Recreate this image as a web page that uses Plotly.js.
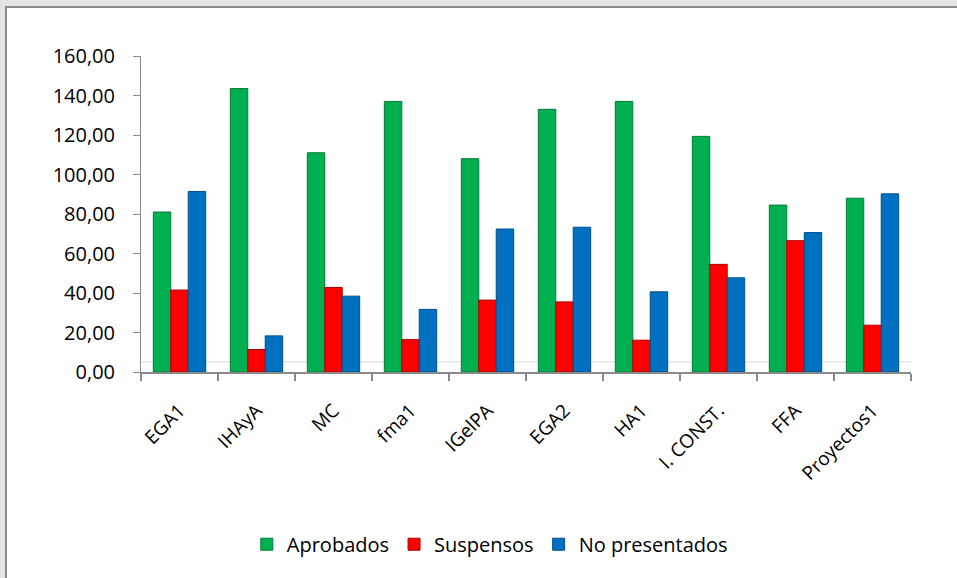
<!DOCTYPE html>
<html>
<head>
<meta charset="utf-8">
<script src="https://cdn.plot.ly/plotly-3.0.1.min.js"></script>
<style>
  html, body { margin: 0; padding: 0; width: 957px; height: 578px; overflow: hidden; background: #e4e4e4; }
  #frame { position: absolute; left: 5px; top: 6px; width: 952px; height: 572px; background: #ffffff;
           border-left: 2px solid #8a8a8a; border-top: 2px solid #8a8a8a; box-sizing: border-box; }
  #chart { position: absolute; left: 0; top: 0; width: 957px; height: 578px; }
</style>
</head>
<body>
<div id="frame"></div>
<div id="chart"></div>
<script>
const categories = ["EGA1", "IHAyA", "MC", "fma1", "IGelPA", "EGA2", "HA1", "I. CONST.", "FFA", "Proyectos1"];
const aprobados = [81, 143.5, 111, 137, 108, 133, 137, 119.3, 84.5, 88];
const suspensos = [41.5, 11.4, 42.8, 16.4, 36.4, 35.5, 16.1, 54.5, 66.5, 23.7];
const noPresentados = [91.4, 18.3, 38.4, 31.7, 72.4, 73.3, 40.6, 47.7, 70.6, 90.2];
const seriesNames = ["Aprobados", "Suspensos", "No presentados"];
const yTicks = [0, 20, 40, 60, 80, 100, 120, 140, 160];

const colors = ["#00B050", "#FF0000", "#0070C0"];
const edges = ["#007a38", "#b00000", "#004f88"];
const data = [aprobados, suspensos, noPresentados].map((vals, i) => ({
  type: "bar",
  name: seriesNames[i],
  x: categories,
  y: vals,
  marker: { color: colors[i], line: { color: edges[i], width: 1 } },
  hoverinfo: "x+y+name"
}));

const layout = {
  width: 957, height: 578,
  paper_bgcolor: "rgba(0,0,0,0)",
  plot_bgcolor: "rgba(0,0,0,0)",
  separators: ",.",
  font: { family: "Open Sans, sans-serif", color: "#000000" },
  margin: { l: 141, r: 46, t: 56, b: 206, pad: 0 },
  barmode: "group",
  bargap: 0.32,
  bargroupgap: 0,
  showlegend: true,
  legend: {
    orientation: "h", x: 0.453, xanchor: "center", y: -0.545, yanchor: "middle",
    font: { size: 20, color: "#000" }, itemwidth: 30, traceorder: "normal"
  },
  xaxis: {
    type: "category",
    tickson: "boundaries",
    ticks: "outside", ticklen: 7, tickwidth: 2, tickcolor: "#8a8a8a",
    showline: true, linecolor: "#8a8a8a", linewidth: 2,
    showgrid: false, zeroline: false,
    tickangle: -45,
    tickfont: { size: 19, color: "#000" },
    ticklabelstandoff: 18
  },
  yaxis: {
    range: [0, 160],
    tickvals: yTicks,
    tickformat: ".2f",
    ticks: "outside", ticklen: 7, tickwidth: 1, tickcolor: "#8a8a8a",
    showline: true, linecolor: "#8a8a8a", linewidth: 1,
    showgrid: false, zeroline: false,
    tickfont: { size: 20, color: "#000" },
    ticklabelstandoff: 14
  },
  shapes: [
    { type: "line", xref: "paper", yref: "paper", x0: 0, x1: 1, y0: 0.032, y1: 0.032,
      line: { color: "#d9d9d9", width: 1 }, layer: "below" }
  ]
};

Plotly.newPlot("chart", data, layout, { staticPlot: true, displayModeBar: false });
</script>
</body>
</html>
